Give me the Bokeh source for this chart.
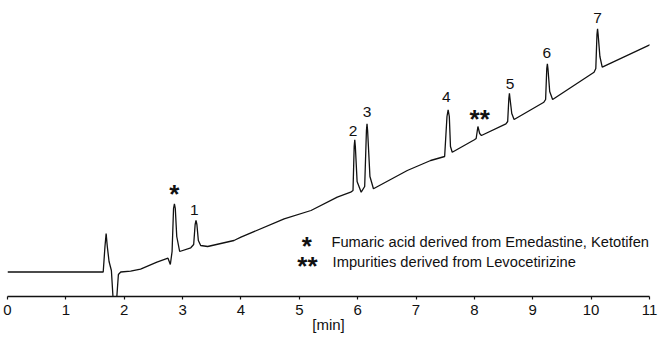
from bokeh.plotting import figure
from bokeh.models import Range1d, FixedTicker, ColumnDataSource
from bokeh.core.properties import value
from bokeh.embed import file_html
from bokeh.resources import INLINE

# Chromatogram trace: retention time [min] and detector signal (relative units)
time_min = [0.00, 1.64, 1.67, 1.69, 1.71, 1.74, 1.78, 1.81, 1.87, 1.90, 1.94, 2.11, 2.28, 2.56,
            2.75, 2.79, 2.82, 2.845, 2.86, 2.875, 2.90, 2.95, 3.14, 3.19, 3.215, 3.23, 3.245, 3.27,
            3.31, 3.43, 3.88, 4.00, 4.74, 5.20, 5.65, 5.88, 5.92, 5.94, 5.95, 5.96, 5.99, 6.06,
            6.12, 6.15, 6.16, 6.17, 6.21, 6.27, 6.85, 7.25, 7.49, 7.53, 7.55, 7.57, 7.59, 7.62,
            8.00, 8.03, 8.06, 8.09, 8.12, 8.54, 8.57, 8.59, 8.60, 8.61, 8.64, 8.68, 9.19, 9.22,
            9.24, 9.25, 9.26, 9.29, 9.34, 10.05, 10.08, 10.10, 10.11, 10.12, 10.15, 10.19, 11.02]
signal = [24.5, 24.5, 50.0, 63.0, 50.0, 35.0, 26.0, -3.0, -3.0, 22.0, 24.5, 25.3, 27.3, 34.3,
          38.3, 32.0, 45.0, 88.0, 92.7, 88.0, 60.0, 45.0, 48.7, 52.0, 72.0, 76.0, 72.0, 56.0,
          51.0, 50.0, 56.0, 59.3, 77.7, 86.0, 99.3, 104.3, 106.0, 150.0, 156.7, 150.0, 115.0, 104.3,
          110.0, 166.0, 172.7, 166.0, 120.0, 107.7, 126.0, 136.0, 140.0, 180.0, 186.7, 180.0, 150.0, 144.3,
          156.7, 158.0, 170.0, 163.0, 161.0, 172.7, 175.0, 198.0, 203.3, 198.0, 183.0, 177.0, 194.3, 197.0,
          228.0, 232.7, 228.0, 205.0, 197.0, 224.3, 228.0, 262.0, 267.7, 262.0, 240.0, 229.3, 252.0]

# Peak annotations
peak_labels = ["*", "1", "2", "3", "4", "**", "5", "6", "7"]
peak_label_x = [2.86, 3.20, 5.92, 6.16, 7.52, 8.09, 8.61, 9.24, 10.11]
peak_label_y = [105.3, 86.7, 166.0, 184.3, 199.3, 180.5, 212.7, 243.2, 279.0]

# Footnote legend
note_marks = ["*", "**"]
note_texts = ["Fumaric acid derived from Emedastine, Ketotifen",
              "Impurities derived from Levocetirizine"]
note_mark_x = [5.13, 5.14]
note_text_x = [5.55, 5.57]
note_y = [55.0, 34.3]

x_ticks = list(range(0, 12))

FONT = "Liberation Sans"

p = figure(width=660, height=337, output_backend="svg", toolbar_location=None,
           x_range=Range1d(0, 11), y_range=Range1d(0, 288),
           min_border_left=7, min_border_right=11, min_border_top=8, min_border_bottom=41)
p.outline_line_color = None
p.grid.visible = False
p.yaxis.visible = False
p.background_fill_color = "white"
p.border_fill_color = "white"

ax = p.xaxis[0]
ax.ticker = FixedTicker(ticks=x_ticks)
ax.axis_line_color = "#111111"
ax.axis_line_width = 1.3
ax.major_tick_line_color = "#111111"
ax.major_tick_line_width = 1.2
ax.major_tick_in = 0
ax.major_tick_out = 3
ax.minor_tick_line_color = None
ax.major_label_text_font = FONT
ax.major_label_text_font_size = "15px"
ax.major_label_text_color = "#111111"
ax.major_label_standoff = 5
ax.axis_label = "[min]"
ax.axis_label_text_font = FONT
ax.axis_label_text_font_size = "15px"
ax.axis_label_text_font_style = "normal"
ax.axis_label_text_color = "#111111"
ax.axis_label_standoff = -2

p.line(time_min, signal, line_color="#111111", line_width=1.3)

pk_plain = ColumnDataSource(dict(
    x=[x for x, t in zip(peak_label_x, peak_labels) if "*" not in t],
    y=[y for y, t in zip(peak_label_y, peak_labels) if "*" not in t],
    t=[t for t in peak_labels if "*" not in t]))
pk_star = ColumnDataSource(dict(
    x=[x for x, t in zip(peak_label_x, peak_labels) if "*" in t],
    y=[y for y, t in zip(peak_label_y, peak_labels) if "*" in t],
    t=[t for t in peak_labels if "*" in t]))

p.text(x="x", y="y", text="t", source=pk_plain, text_font=value(FONT),
       text_font_size="15.5px", text_align="center", text_baseline="middle", text_color="#111111")
p.text(x="x", y="y", text="t", source=pk_star, text_font=value(FONT), text_font_style="bold",
       text_font_size="26px", text_align="center", text_baseline="middle", text_color="#111111",
       y_offset=3)

p.text(x=note_mark_x, y=note_y, text=note_marks, text_font=value(FONT), text_font_style="bold",
       text_font_size="26px", text_align="center", text_baseline="middle", text_color="#111111",
       y_offset=4)
p.text(x=note_text_x, y=note_y, text=note_texts, text_font=value(FONT),
       text_font_size="14.7px", text_align="left", text_baseline="middle", text_color="#111111")

open("out.html", "w").write(file_html(p, INLINE))
